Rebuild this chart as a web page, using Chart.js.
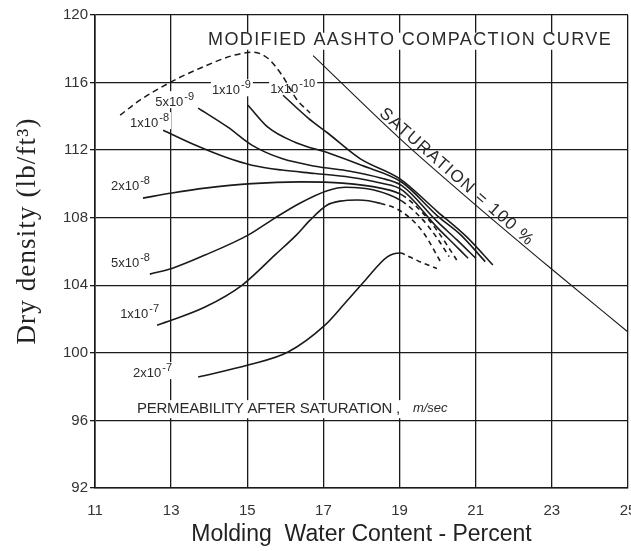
<!DOCTYPE html>
<html>
<head>
<meta charset="utf-8">
<script src="https://cdn.jsdelivr.net/npm/chart.js@4.4.1/dist/chart.umd.min.js"></script>
<style>
  html, body { margin: 0; padding: 0; background: #fff; }
  canvas { display: block; }
</style>
</head>
<body>
<canvas id="chart" width="631" height="551"></canvas>
<script>
const xTicks = [11, 13, 15, 17, 19, 21, 23, 25];
const yTicks = [92, 96, 100, 104, 108, 112, 116, 120];

// [molding water content %, dry density lb/ft3]
const compaction = [[11.66, 114.07], [12.18, 114.96], [13.05, 116.1], [13.76, 116.85], [14.62, 117.6],
  [15.15, 117.8], [15.54, 117.44], [15.91, 116.44], [16.3, 115.0], [16.65, 114.2]];
const saturation = [[16.73, 117.6], [19.0, 112.7], [21.0, 108.75], [23.0, 104.95], [25.0, 101.23]];

const k1e10 = [[15.94, 115.25], [16.6, 113.9], [17.12, 113.0], [17.96, 111.5], [19.01, 110.3],
  [20.0, 108.35], [20.77, 106.85], [21.45, 105.2]];
const k1e9 = [[15.02, 114.66], [15.54, 113.36], [16.25, 112.47], [17.17, 111.8], [18.0, 111.1],
  [19.06, 110.1], [20.0, 108.1], [20.6, 107.0], [21.25, 105.4]];
const k5e9 = [[13.71, 114.49], [14.49, 113.36], [15.12, 112.3], [15.91, 111.5], [16.78, 111.05],
  [17.7, 110.75], [18.5, 110.35], [19.06, 109.9], [20.0, 107.75], [20.5, 106.7], [21.0, 105.6]];
const k1e8 = [[12.79, 113.18], [13.63, 112.3], [14.49, 111.53], [15.12, 111.11], [15.91, 110.82],
  [16.78, 110.62], [17.7, 110.4], [18.5, 110.05], [19.06, 109.65], [20.0, 107.4], [20.4, 106.5], [20.8, 105.6]];
const k2e8 = [[12.26, 109.16], [13.02, 109.46], [13.89, 109.75], [15.12, 110.02], [16.4, 110.12],
  [17.5, 110.05], [18.5, 109.75], [19.06, 109.35], [19.6, 108.3], [20.0, 107.2], [20.5, 105.5]];
const k5e8 = [[12.44, 104.66], [13.02, 105.0], [13.89, 105.79], [15.02, 106.97], [15.68, 107.92],
  [16.38, 108.86], [17.1, 109.6], [17.6, 109.8], [18.3, 109.65], [19.06, 108.98], [19.6, 107.9],
  [20.0, 106.75], [20.3, 105.7]];
const k1e7 = [[12.63, 101.64], [13.02, 101.94], [13.89, 102.71], [14.86, 104.0], [15.73, 105.8],
  [16.3, 107.0], [16.65, 107.86], [17.1, 108.75], [17.44, 108.98], [17.9, 109.05], [18.5, 108.85],
  [19.06, 108.35], [19.6, 107.2], [20.1, 105.3]];
const k2e7 = [[13.71, 98.57], [15.02, 99.28], [16.07, 100.05], [17.04, 101.64], [17.57, 102.95],
  [18.1, 104.3], [18.67, 105.67], [19.01, 105.91], [19.27, 105.67], [19.62, 105.31], [19.98, 105.0]];

// base text, exponent, anchor (water %, density)
const curveLabels = [
  ['1x10', '-10', 15.6, 115.67],
  ['1x10', '-9', 14.07, 115.6],
  ['5x10', '-9', 12.58, 114.9],
  ['1x10', '-8', 11.92, 113.66],
  ['2x10', '-8', 11.42, 109.93],
  ['5x10', '-8', 11.42, 105.37],
  ['1x10', '-7', 11.66, 102.36],
  ['2x10', '-7', 12.0, 98.86]
];

const INK = '#1a1a1a';
const SANS = '"Liberation Sans", Arial, sans-serif';
const pts = arr => arr.map(([x, y]) => ({ x, y }));

function curve(data, dashFrom, width) {
  return {
    data: pts(data),
    showLine: true,
    borderColor: INK,
    borderWidth: width || 1.6,
    pointRadius: 0,
    fill: false,
    cubicInterpolationMode: 'monotone',
    segment: {
      borderDash: c => (dashFrom !== null && c.p0.parsed.x >= dashFrom - 1e-6) ? [5, 4] : undefined
    }
  };
}

// draw text stretched/squeezed by letter spacing to a given width
function spaced(ctx, text, x, y, width) {
  ctx.letterSpacing = '0px';
  const w = ctx.measureText(text).width;
  ctx.letterSpacing = ((width - w) / text.length) + 'px';
  ctx.fillText(text, x, y);
  ctx.letterSpacing = '0px';
}

const annotations = {
  id: 'annotations',
  beforeDatasetsDraw(chart) {
    const { ctx } = chart;
    const xs = chart.scales.x, ys = chart.scales.y;
    const px = v => xs.getPixelForValue(v), py = v => ys.getPixelForValue(v);
    ctx.save();
    ctx.fillStyle = '#fff';
    ctx.fillRect(px(13.85), py(118.95), px(24.7) - px(13.85), 17);
    ctx.fillRect(px(12.0), py(97.2), px(20.6) - px(12.0), 18);
    ctx.fillStyle = '#2a2a2a';
    ctx.textBaseline = 'middle';
    ctx.textAlign = 'left';
    ctx.font = '18px ' + SANS;
    spaced(ctx, 'MODIFIED AASHTO COMPACTION CURVE', px(13.97), py(118.5), px(24.58) - px(13.97));
    ctx.font = '15px ' + SANS;
    spaced(ctx, 'PERMEABILITY AFTER SATURATION ,', px(12.1), py(96.67), px(19.01) - px(12.1));
    ctx.font = 'italic 13px ' + SANS;
    ctx.fillText('m/sec', px(19.35), py(96.7));

    // saturation caption along the line
    const a = Math.atan2(py(108.75) - py(112.7), px(21.0) - px(19.0));
    ctx.save();
    ctx.translate(px(20.5), py(110.4));
    ctx.rotate(a);
    ctx.textAlign = 'center';
    ctx.font = '17px ' + SANS;
    spaced(ctx, 'SATURATION = 100 %', 0, 0, 200);
    ctx.restore();

    // permeability labels
    ctx.textAlign = 'left';
    curveLabels.forEach(([base, exp, x, y]) => {
      const lx = px(x), ly = py(y);
      ctx.font = '13px ' + SANS;
      const bw = ctx.measureText(base).width;
      ctx.font = '11px ' + SANS;
      const ew = ctx.measureText(exp).width;
      ctx.fillStyle = '#fff';
      ctx.fillRect(lx - 1, ly - 10, bw + ew + 4, 17);
      ctx.fillStyle = '#2a2a2a';
      ctx.font = '13px ' + SANS;
      ctx.fillText(base, lx, ly + 1);
      ctx.font = '11px ' + SANS;
      ctx.fillText(exp, lx + bw + 1, ly - 4);
    });
    ctx.restore();
  },
  afterDraw(chart) {
    // y axis title, serif, rotated
    const { ctx } = chart;
    ctx.save();
    ctx.translate(28, 231);
    ctx.rotate(-Math.PI / 2);
    ctx.fillStyle = '#222';
    ctx.textAlign = 'center';
    ctx.textBaseline = 'middle';
    ctx.font = '27px "Liberation Serif", "Times New Roman", serif';
    spaced(ctx, 'Dry density (lb/ft³)', 0, 0, 227);
    ctx.restore();
  }
};

new Chart(document.getElementById('chart'), {
  type: 'scatter',
  data: {
    datasets: [
      curve(saturation, null, 1.1),
      Object.assign(curve(compaction, null, 1.5), { borderDash: [6, 4] }),
      curve(k1e10, null),
      curve(k1e9, null),
      curve(k5e9, null),
      curve(k1e8, null),
      curve(k2e8, 19.06),
      curve(k5e8, 19.06),
      curve(k1e7, 18.5),
      curve(k2e7, 19.01)
    ]
  },
  options: {
    responsive: false,
    animation: false,
    events: [],
    layout: { padding: { top: 15, right: 3, left: 0, bottom: 0 } },
    plugins: { legend: { display: false }, tooltip: { enabled: false } },
    scales: {
      x: {
        type: 'linear',
        min: 11,
        max: 25,
        afterBuildTicks: s => { s.ticks = xTicks.map(v => ({ value: v })); },
        afterFit: s => { s.height = 63; s.paddingLeft = 0; s.paddingRight = 0; },
        grid: { color: INK, lineWidth: 1.3, drawTicks: false },
        border: { color: INK, width: 1.6 },
        ticks: {
          padding: 14,
          color: '#333',
          font: { family: SANS, size: 15 }
        },
        title: {
          display: true,
          text: 'Molding  Water Content - Percent',
          color: '#222',
          padding: { top: 0, bottom: 3 },
          font: { family: SANS, size: 23 }
        }
      },
      y: {
        type: 'linear',
        min: 92,
        max: 120,
        afterBuildTicks: s => { s.ticks = yTicks.map(v => ({ value: v })); },
        afterFit: s => { s.width = 95; s.paddingTop = 0; s.paddingBottom = 0; },
        grid: { color: INK, lineWidth: 1.3, tickLength: 5 },
        border: { color: INK, width: 1.6 },
        ticks: {
          padding: 2,
          color: '#333',
          font: { family: SANS, size: 15 }
        }
      }
    }
  },
  plugins: [annotations]
});
</script>
</body>
</html>
